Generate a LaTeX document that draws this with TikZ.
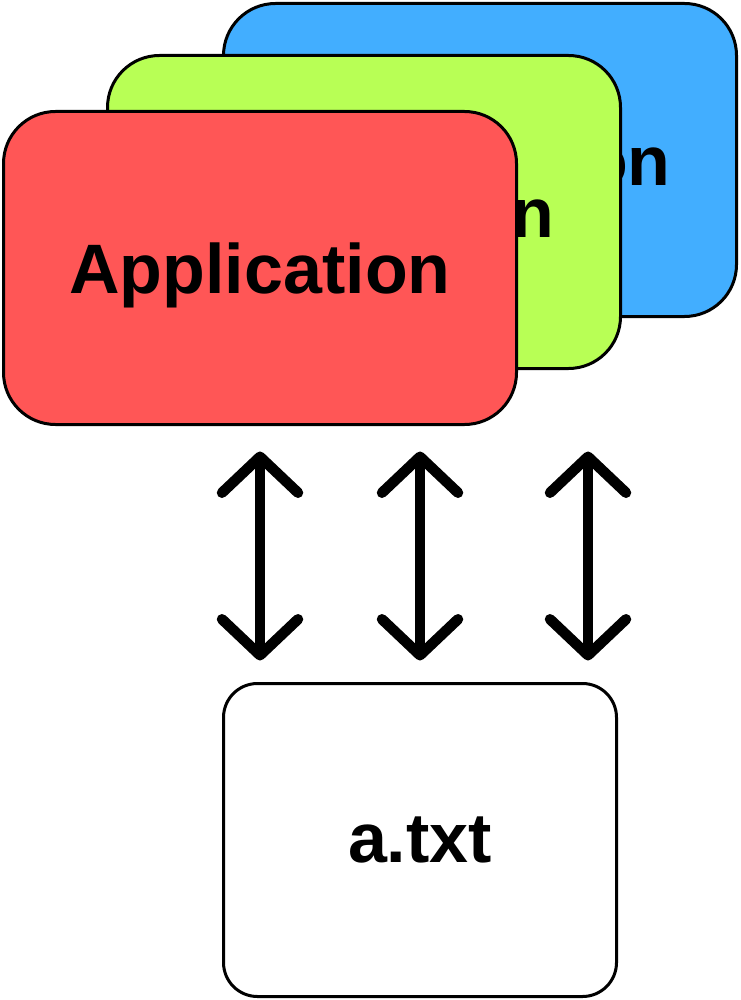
\documentclass[tikz,border=0pt]{standalone}
\usepackage{fontspec}
\setmainfont{Liberation Sans}
\usetikzlibrary{arrows.meta,positioning}
\definecolor{appblue}{HTML}{42AEFF}
\definecolor{appgreen}{HTML}{B8FF55}
\definecolor{appred}{HTML}{FF5656}

\begin{document}
\begin{tikzpicture}[x=1pt, y=-1pt, line width=3pt, font=\fontsize{70}{84}\selectfont\bfseries]
  \tikzstyle{app}=[draw,rounded corners=52pt,minimum width=513pt,minimum height=313pt,inner sep=0pt,outer sep=0pt,text depth=0pt]
  \tikzstyle{link}=[{Straight Barb[length=36pt,width=76pt,line cap=round,line join=round]}-{Straight Barb[length=36pt,width=76pt,line cap=round,line join=round]},line width=10.5pt,line cap=round,shorten <=27pt,shorten >=23pt]
  \useasboundingbox (0,0) rectangle (740,1000);
  \node[app,fill=appblue] (app3) at (480,160) {Application};
  \node[app,fill=appgreen] (app2) at (364,212) {Application};
  \node[app,fill=appred] (app1) at (260,268) {Application};
  \node[app,fill=white,minimum width=393pt,rounded corners=34pt] (file) at (420,840) {a.txt};
  \foreach \x [count=\i] in {260,420,588} {
    \coordinate (c\i) at (\x,0);
    \draw[link] (app1.south -| c\i) -- (file.north -| c\i);
  }
\end{tikzpicture}
\end{document}
